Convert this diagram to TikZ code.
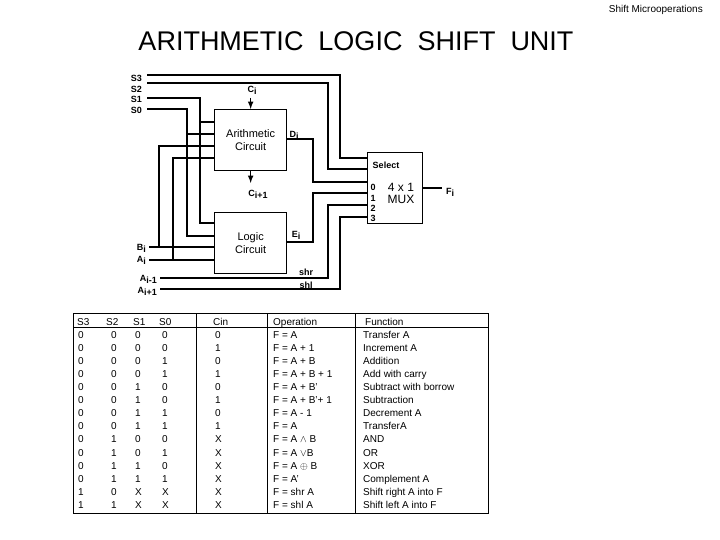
\documentclass[tikz,border=0pt]{standalone}
\usepackage{fontspec}
\setmainfont{Liberation Sans}
\newcommand{\sbs}[1]{\raisebox{-0.45ex}{#1}}
\begin{document}
\begin{tikzpicture}[x=1pt,y=-1pt,
  wire/.style={line width=1.3pt},
  box/.style={draw,line width=1.3pt,minimum width=72pt,minimum height=61pt,inner sep=0pt},
  lbl/.style={font=\fontsize{9}{10}\selectfont\bfseries,inner sep=0pt},
  tb/.style={font=\fontsize{10}{10}\selectfont,inner sep=0pt,anchor=base west},
  arr/.style={line width=1.5pt,-{latex}}]
\useasboundingbox (0,0) rectangle (720,540);
\node[anchor=north east,font=\fontsize{10}{12}\selectfont,inner sep=0pt] (hdr) at (703,5) {Shift Microoperations};
\node[font=\fontsize{27}{30}\selectfont,inner sep=0pt] (title) at (356,41) {ARITHMETIC\ \ LOGIC\ \ SHIFT\ \ UNIT};
% boxes
\node[box,anchor=north west,align=center,font=\fontsize{11}{13}\selectfont] (ac) at (214,109) {Arithmetic\\Circuit};
\node[box,anchor=north west,align=center,font=\fontsize{11}{13}\selectfont] (lc) at (214,212) {Logic\\Circuit};
\node[draw,line width=1.3pt,anchor=north west,minimum width=55pt,minimum height=71pt,inner sep=0pt] (mux) at (367,152) {};
\node[align=center,font=\fontsize{12}{12}\selectfont,inner sep=0pt] (muxt) at (401,193) {4 x 1\\MUX};
\node[lbl] (sel) at (386,165) {Select};
\node[lbl] (m0) at (373,187) {0};
\node[lbl] (m1) at (373,198) {1};
\node[lbl] (m2) at (373,208) {2};
\node[lbl] (m3) at (373,218) {3};
% input labels
\node[lbl,anchor=east] (s3) at (142,78) {S3};
\node[lbl,anchor=east] (s2) at (142,89) {S2};
\node[lbl,anchor=east] (s1) at (142,99) {S1};
\node[lbl,anchor=east] (s0) at (142,110) {S0};
\node[lbl,anchor=east] (bi) at (146,248) {B\sbs{i}};
\node[lbl,anchor=east] (ai) at (146,260) {A\sbs{i}};
\node[lbl,anchor=east] (am) at (157,279) {A\sbs{i-1}};
\node[lbl,anchor=east] (ap) at (157,291) {A\sbs{i+1}};
\node[lbl] (ci) at (252,90) {C\sbs{i}};
\node[lbl] (co) at (258,194) {C\sbs{i+1}};
\node[lbl] (di) at (294,135) {D\sbs{i}};
\node[lbl] (ei) at (296,235) {E\sbs{i}};
\node[lbl] (shr) at (306,272) {shr};
\node[lbl] (shl) at (306,285) {shl};
\node[lbl] (fi) at (450,192) {F\sbs{i}};
\coordinate (fe) at (442,188);
\coordinate (w3) at (147,75);
\coordinate (w2) at (147,83);
\coordinate (w1) at (147,98);
\coordinate (w0) at (147,109);
\coordinate (wb) at (149,247);
\coordinate (wa) at (149,260);
\coordinate (wm) at (160,278);
\coordinate (wp) at (160,289);
% wires
\draw[wire] (w3) -- (340,75) |- (mux.west |- 0,158);
\draw[wire] (w2) -- (328,83) |- (mux.west |- 0,169);
\draw[wire] (w1) -- (200,98) |- (lc.west |- 0,223);
\draw[wire] (200,122) -- (ac.west |- 0,122);
\draw[wire] (w0) -- (187,109) |- (lc.west |- 0,236);
\draw[wire] (187,134) -- (ac.west |- 0,134);
\draw[wire] (wb) -- (lc.west |- wb);
\draw[wire] (159,247) |- (ac.west |- 0,146);
\draw[wire] (wa) -- (lc.west |- wa);
\draw[wire] (173,260) |- (ac.west |- 0,158);
\draw[wire] (ac.east |- 0,139) -- (313,139) |- (mux.west |- 0,182);
\draw[wire] (lc.east |- 0,242) -- (313,242) |- (mux.west |- 0,193);
\draw[wire] (wm) -- (328,278) |- (mux.west |- 0,205);
\draw[wire] (wp) -- (340,289) |- (mux.west |- 0,217);
\draw[wire] (mux.east |- fe) -- (fe);
\draw[arr] (ac.north |- 0,98) -- (ac.north);
\draw[arr] (ac.south) -- (ac.south |- 0,183);
% table
\draw[line width=1pt] (73,313) rectangle (488,513);
\draw[line width=1pt] (73,327) -- (488,327);
\foreach \x in {196,267,355} \draw[line width=1pt] (\x,313) -- (\x,513);
\node[tb] (h1) at (77,325) {S3};
\node[tb] (h2) at (106,325) {S2};
\node[tb] (h3) at (133,325) {S1};
\node[tb] (h4) at (159,325) {S0};
\node[tb] (h5) at (213,325) {Cin};
\node[tb] (h6) at (273,325) {Operation};
\node[tb] (h7) at (365,325) {Function};
\foreach [count=\i] \a/\b/\c/\d/\e/\op/\fn in {
 0/0/0/0/0/{F = A}/{Transfer A},
 0/0/0/0/1/{F = A + 1}/{Increment A},
 0/0/0/1/0/{F = A + B}/{Addition},
 0/0/0/1/1/{F = A + B + 1}/{Add with carry},
 0/0/1/0/0/{F = A + B’}/{Subtract with borrow},
 0/0/1/0/1/{F = A + B’+ 1}/{Subtraction},
 0/0/1/1/0/{F = A - 1}/{Decrement A},
 0/0/1/1/1/{F = A}/{TransferA},
 0/1/0/0/X/{F = A $\wedge$ B}/{AND},
 0/1/0/1/X/{F = A $\vee$B}/{OR},
 0/1/1/0/X/{F = A $\oplus$ B}/{XOR},
 0/1/1/1/X/{F = A’}/{Complement A},
 1/0/X/X/X/{F = shr A}/{Shift right A into F},
 1/1/X/X/X/{F = shl A}/{Shift left A into F}}{
  \pgfmathsetmacro\yy{325+13.1*\i}
  \node[tb] (ra\i) at (78,\yy) {\a};
  \node[tb] (rb\i) at (111,\yy) {\b};
  \node[tb] (rc\i) at (135,\yy) {\c};
  \node[tb] (rd\i) at (162,\yy) {\d};
  \node[tb] (re\i) at (215,\yy) {\e};
  \node[tb] (rf\i) at (273,\yy) {\op};
  \node[tb] (rg\i) at (363,\yy) {\fn};
}
\end{tikzpicture}
\end{document}
